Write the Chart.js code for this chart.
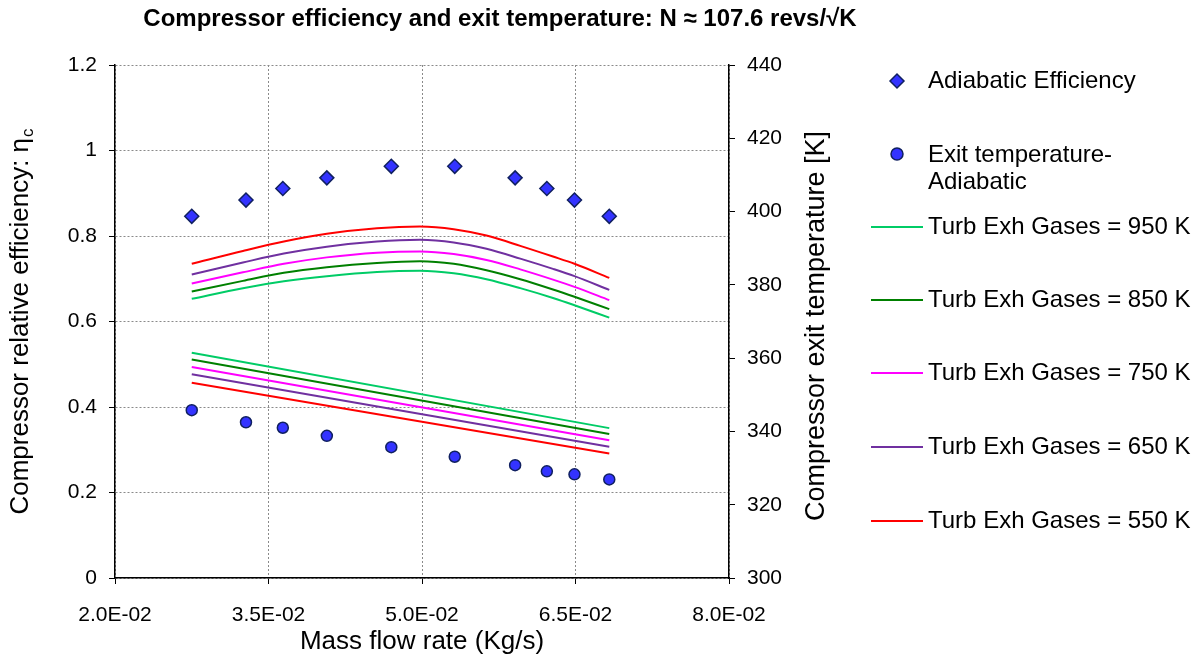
<!DOCTYPE html>
<html>
<head>
<meta charset="utf-8">
<script src="https://cdn.jsdelivr.net/npm/chart.js@4.4.1/dist/chart.umd.min.js"></script>
<style>
  html, body { margin: 0; padding: 0; background: #fff; }
  #wrap { width: 1197px; height: 659px; }
</style>
</head>
<body>
<div id="wrap"><canvas id="chart" width="1197" height="659"></canvas></div>
<script>
const FONT = "'Liberation Sans', Arial, Helvetica, sans-serif";

// x axis ticks (mass flow, kg/s)
const X_TICKS = [0.02, 0.035, 0.05, 0.065, 0.08];

// measured points
const MASS_FLOW     = [0.0275, 0.0328, 0.0364, 0.0407, 0.0470, 0.0532, 0.0591, 0.0622, 0.0649, 0.0683];
const ADIABATIC_EFF = [0.846, 0.884, 0.911, 0.936, 0.963, 0.963, 0.936, 0.911, 0.884, 0.846];
const EXIT_TEMP     = [345.8, 342.5, 341.0, 338.8, 335.7, 333.1, 330.8, 329.1, 328.3, 326.9];

// efficiency curves, one per turbine exhaust gas temperature
const CURVE_FLOW = [0.0275, 0.0325, 0.0365, 0.0407, 0.0456, 0.0498, 0.0531, 0.0563, 0.0596, 0.0628, 0.0649, 0.0683];
const EFF_950 = [0.653, 0.678, 0.694, 0.706, 0.716, 0.719, 0.713, 0.699, 0.678, 0.655, 0.638, 0.609];
const EFF_850 = [0.670, 0.695, 0.714, 0.727, 0.737, 0.741, 0.735, 0.720, 0.699, 0.675, 0.658, 0.629];
const EFF_750 = [0.689, 0.715, 0.735, 0.750, 0.761, 0.764, 0.758, 0.744, 0.722, 0.698, 0.681, 0.650];
const EFF_650 = [0.710, 0.738, 0.759, 0.775, 0.787, 0.791, 0.785, 0.770, 0.747, 0.723, 0.706, 0.674];
const EFF_550 = [0.735, 0.765, 0.787, 0.805, 0.818, 0.822, 0.816, 0.801, 0.777, 0.752, 0.735, 0.702];

// exit temperature lines
const LINE_FLOW = [0.0275, 0.0683];
const TEMP_950 = [361.5, 340.9];
const TEMP_850 = [359.6, 339.3];
const TEMP_750 = [357.6, 337.6];
const TEMP_650 = [355.6, 335.8];
const TEMP_550 = [353.3, 334.0];

const TURB_LABELS = ['Turb Exh Gases = 950 K', 'Turb Exh Gases = 850 K', 'Turb Exh Gases = 750 K',
                     'Turb Exh Gases = 650 K', 'Turb Exh Gases = 550 K'];
const TURB_COLORS = ['#00cc66', '#008000', '#ff00ff', '#7030a0', '#ff0000'];
const EFF_CURVES  = [EFF_950, EFF_850, EFF_750, EFF_650, EFF_550];
const TEMP_LINES  = [TEMP_950, TEMP_850, TEMP_750, TEMP_650, TEMP_550];

const MARKER_FILL   = '#3333ff';
const MARKER_BORDER = '#102060';

const toXY = (xs, ys) => xs.map((x, i) => ({ x, y: ys[i] }));

function fmtExp(v) {
    const [m, e] = Number(v).toExponential(1).split('e');
    const n = parseInt(e, 10);
    return m + 'E' + (n < 0 ? '-' : '+') + String(Math.abs(n)).padStart(2, '0');
}

const datasets = [
    {
        label: 'Adiabatic Efficiency',
        data: toXY(MASS_FLOW, ADIABATIC_EFF),
        yAxisID: 'y',
        pointStyle: 'rectRot',
        pointRadius: 7,
        pointBorderWidth: 1.5,
        backgroundColor: MARKER_FILL,
        borderColor: MARKER_BORDER,
        showLine: false
    },
    {
        label: 'Exit temperature-Adiabatic',
        data: toXY(MASS_FLOW, EXIT_TEMP),
        yAxisID: 'y2',
        pointStyle: 'circle',
        pointRadius: 5.5,
        pointBorderWidth: 1.5,
        backgroundColor: MARKER_FILL,
        borderColor: MARKER_BORDER,
        showLine: false
    }
];

EFF_CURVES.forEach((vals, i) => {
    datasets.push({
        label: TURB_LABELS[i],
        data: toXY(CURVE_FLOW, vals),
        yAxisID: 'y',
        showLine: true,
        borderColor: TURB_COLORS[i],
        borderWidth: 2,
        pointRadius: 0,
        cubicInterpolationMode: 'monotone'
    });
});

TEMP_LINES.forEach((vals, i) => {
    datasets.push({
        label: TURB_LABELS[i],
        data: toXY(LINE_FLOW, vals),
        yAxisID: 'y2',
        showLine: true,
        borderColor: TURB_COLORS[i],
        borderWidth: 2,
        pointRadius: 0
    });
});

// rotated text reading bottom to top, centred on (x, y)
function verticalText(ctx, x, y, main, sub, size) {
    ctx.font = size + 'px ' + FONT;
    const w1 = ctx.measureText(main).width;
    ctx.font = Math.round(size * 0.65) + 'px ' + FONT;
    const w2 = sub ? ctx.measureText(sub).width + 1 : 0;
    ctx.save();
    ctx.translate(x, y);
    ctx.rotate(-Math.PI / 2);
    ctx.textAlign = 'left';
    ctx.textBaseline = 'middle';
    ctx.font = size + 'px ' + FONT;
    ctx.fillText(main, -(w1 + w2) / 2, 0);
    if (sub) {
        ctx.font = Math.round(size * 0.65) + 'px ' + FONT;
        ctx.fillText(sub, -(w1 + w2) / 2 + w1 + 1, 7);
    }
    ctx.restore();
}

// title, vertical axis titles and the right-hand legend
const decorPlugin = {
    id: 'decor',
    afterDraw(chart) {
        const ctx = chart.ctx;
        const area = chart.chartArea;
        ctx.save();
        ctx.fillStyle = '#000';

        ctx.font = 'bold 24px ' + FONT;
        ctx.textAlign = 'center';
        ctx.textBaseline = 'middle';
        ctx.fillText('Compressor efficiency and exit temperature: N \u2248 107.6 revs/\u221AK', 500, 19);

        verticalText(ctx, 21, (area.top + area.bottom) / 2, 'Compressor relative efficiency: \u03B7', 'c', 26);
        verticalText(ctx, 817, 326, 'Compressor exit temperature [K]', '', 27);

        // legend
        const tx = 928;
        const mx = 897;
        ctx.font = '24px ' + FONT;
        ctx.textAlign = 'left';
        ctx.textBaseline = 'middle';

        ctx.fillStyle = MARKER_FILL;
        ctx.strokeStyle = MARKER_BORDER;
        ctx.lineWidth = 1.5;
        ctx.beginPath();
        ctx.moveTo(mx - 7, 81);
        ctx.lineTo(mx, 74);
        ctx.lineTo(mx + 7, 81);
        ctx.lineTo(mx, 88);
        ctx.closePath();
        ctx.fill();
        ctx.stroke();
        ctx.fillStyle = '#000';
        ctx.fillText(datasets[0].label, tx, 81);

        ctx.fillStyle = MARKER_FILL;
        ctx.beginPath();
        ctx.arc(mx, 154, 6, 0, Math.PI * 2);
        ctx.fill();
        ctx.stroke();
        ctx.fillStyle = '#000';
        ctx.fillText('Exit temperature-', tx, 155);
        ctx.fillText('Adiabatic', tx, 182);

        const rows = [227, 300, 373, 447, 521];
        TURB_LABELS.forEach((lbl, i) => {
            ctx.strokeStyle = TURB_COLORS[i];
            ctx.lineWidth = 2;
            ctx.beginPath();
            ctx.moveTo(871, rows[i]);
            ctx.lineTo(923, rows[i]);
            ctx.stroke();
            ctx.fillStyle = '#000';
            ctx.fillText(lbl, tx, rows[i]);
        });
        ctx.restore();
    }
};

const tickFont = { family: FONT, size: 21 };

new Chart(document.getElementById('chart').getContext('2d'), {
    type: 'scatter',
    data: { datasets },
    options: {
        responsive: false,
        animation: false,
        layout: { padding: { left: 0, right: 364, top: 65, bottom: 0 } },
        plugins: {
            legend: { display: false },
            title: { display: false },
            tooltip: { enabled: false }
        },
        scales: {
            x: {
                type: 'linear',
                position: 'bottom',
                min: 0.02,
                max: 0.08,
                afterBuildTicks: (s) => { s.ticks = X_TICKS.map((v) => ({ value: v })); },
                afterFit: (s) => { s.height = 81; },
                ticks: { font: tickFont, color: '#000', padding: 19, maxRotation: 0, autoSkip: false, callback: fmtExp },
                grid: { color: '#8a8a8a', tickColor: '#000', tickLength: 6, lineWidth: 1 },
                border: { color: '#000', width: 1.5, dash: [2, 2] },
                title: { display: true, text: 'Mass flow rate (Kg/s)', color: '#000',
                         font: { family: FONT, size: 26 }, padding: { top: 0, bottom: 2 } }
            },
            y: {
                position: 'left',
                min: 0,
                max: 1.2,
                afterFit: (s) => { s.width = 115; },
                ticks: { stepSize: 0.2, font: tickFont, color: '#000', padding: 12,
                         callback: (v) => String(parseFloat(Number(v).toFixed(2))) },
                grid: { color: '#8a8a8a', tickColor: '#000', tickLength: 6, lineWidth: 1 },
                border: { color: '#000', width: 1.5, dash: [2, 2] }
            },
            y2: {
                position: 'right',
                min: 300,
                max: 440,
                afterFit: (s) => { s.width = 104; },
                ticks: { stepSize: 20, font: tickFont, color: '#000', padding: 12 },
                grid: { drawOnChartArea: false, color: '#000', tickColor: '#000', tickLength: 6 },
                border: { color: '#000', width: 1.5 }
            }
        }
    },
    plugins: [decorPlugin]
});
</script>
</body>
</html>
